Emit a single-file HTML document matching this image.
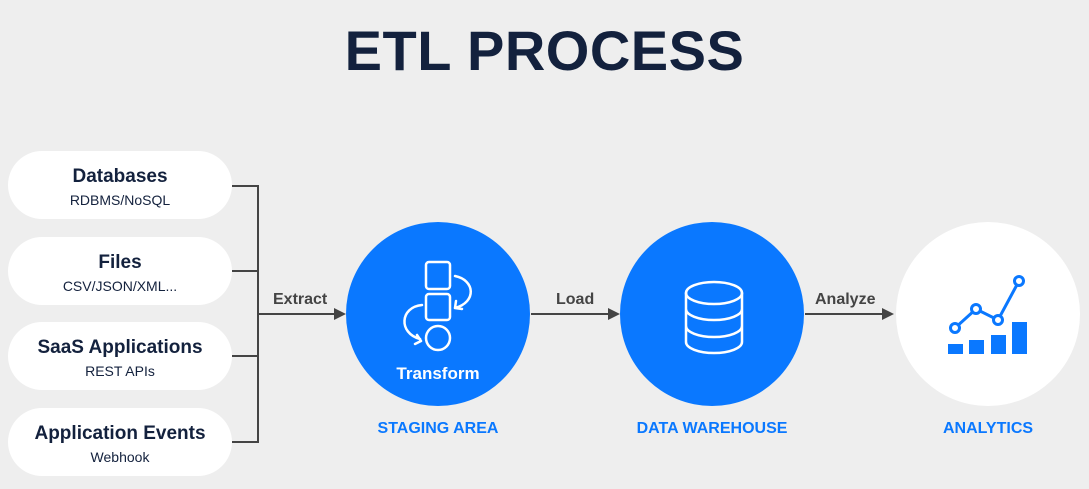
<!DOCTYPE html>
<html><head><style>
body{margin:0;width:1089px;height:489px;background:#eeeeee;font-family:"Liberation Sans",sans-serif;overflow:hidden;position:relative}
.t{position:absolute;left:0;width:1089px;top:18px;text-align:center;font-size:56px;font-weight:bold;color:#13213d;letter-spacing:0.5px}
.pill{position:absolute;left:8px;width:224px;height:68px;background:#fff;border-radius:34px;text-align:center;color:#13213d}
.pill b{display:block;font-size:19px;margin-top:15px}
.pill span{display:block;font-size:14px;margin-top:4px}
.lbl{position:absolute;font-size:16px;color:#444;font-weight:bold}
.cap{position:absolute;font-size:16px;color:#0a78ff;font-weight:bold;text-align:center;width:240px}
</style></head><body>
<div class="t">ETL PROCESS</div>
<div class="pill" style="top:151px"><b>Databases</b><span>RDBMS/NoSQL</span></div>
<div class="pill" style="top:237px"><b>Files</b><span>CSV/JSON/XML...</span></div>
<div class="pill" style="top:322px"><b>SaaS Applications</b><span>REST APIs</span></div>
<div class="pill" style="top:408px"><b>Application Events</b><span>Webhook</span></div>
<svg width="1089" height="489" style="position:absolute;left:0;top:0">
<g stroke="#444" stroke-width="2" fill="none">
<path d="M232 186H258M232 271H258M232 356H258M232 442H258M258 185V443M258 314H334"/>
<path d="M531 314H608M805 314H882"/>
</g>
<g fill="#444"><path d="M346 314l-12-6v12z"/><path d="M620 314l-12-6v12z"/><path d="M894 314l-12-6v12z"/></g>
<circle cx="438" cy="314" r="92" fill="#0a78ff"/>
<circle cx="712" cy="314" r="92" fill="#0a78ff"/>
<circle cx="988" cy="314" r="92" fill="#fff"/>
<g stroke="#fff" stroke-width="2.5" fill="none" stroke-linecap="round">
<rect x="426" y="262" width="24" height="27" rx="3"/>
<rect x="426" y="294" width="24" height="26" rx="3"/>
<circle cx="438" cy="338" r="12"/>
<path d="M455 276c20 4 22 26 0 32M455 308l1-7M455 308l7 1"/>
<path d="M422 305c-22 2-24 28-2 34M421 341l-6 3M421 341l-4-6"/>
<ellipse cx="714" cy="293" rx="28" ry="11"/>
<path d="M686 293V342a28 11 0 0 0 56 0V293M686 309a28 11 0 0 0 56 0M686 326a28 11 0 0 0 56 0"/>
</g>
<g stroke="#0a78ff" stroke-width="3" fill="none">
<path d="M955 328L976 309L998 320L1019 281"/>
<circle cx="955" cy="328" r="4.5" fill="#fff"/><circle cx="976" cy="309" r="4.5" fill="#fff"/><circle cx="998" cy="320" r="4.5" fill="#fff"/><circle cx="1019" cy="281" r="4.5" fill="#fff"/>
</g>
<g fill="#0a78ff"><rect x="948" y="344" width="15" height="10"/><rect x="969" y="340" width="15" height="14"/><rect x="991" y="335" width="15" height="19"/><rect x="1012" y="322" width="15" height="32"/></g>
<text x="438" y="379" text-anchor="middle" fill="#fff" font-size="17" font-weight="bold" font-family="Liberation Sans">Transform</text>
</svg>
<div class="lbl" style="left:273px;top:291px">Extract</div>
<div class="lbl" style="left:556px;top:291px">Load</div>
<div class="lbl" style="left:815px;top:291px">Analyze</div>
<div class="cap" style="left:318px;top:420px">STAGING AREA</div>
<div class="cap" style="left:592px;top:420px">DATA WAREHOUSE</div>
<div class="cap" style="left:868px;top:420px">ANALYTICS</div>
</body></html>
